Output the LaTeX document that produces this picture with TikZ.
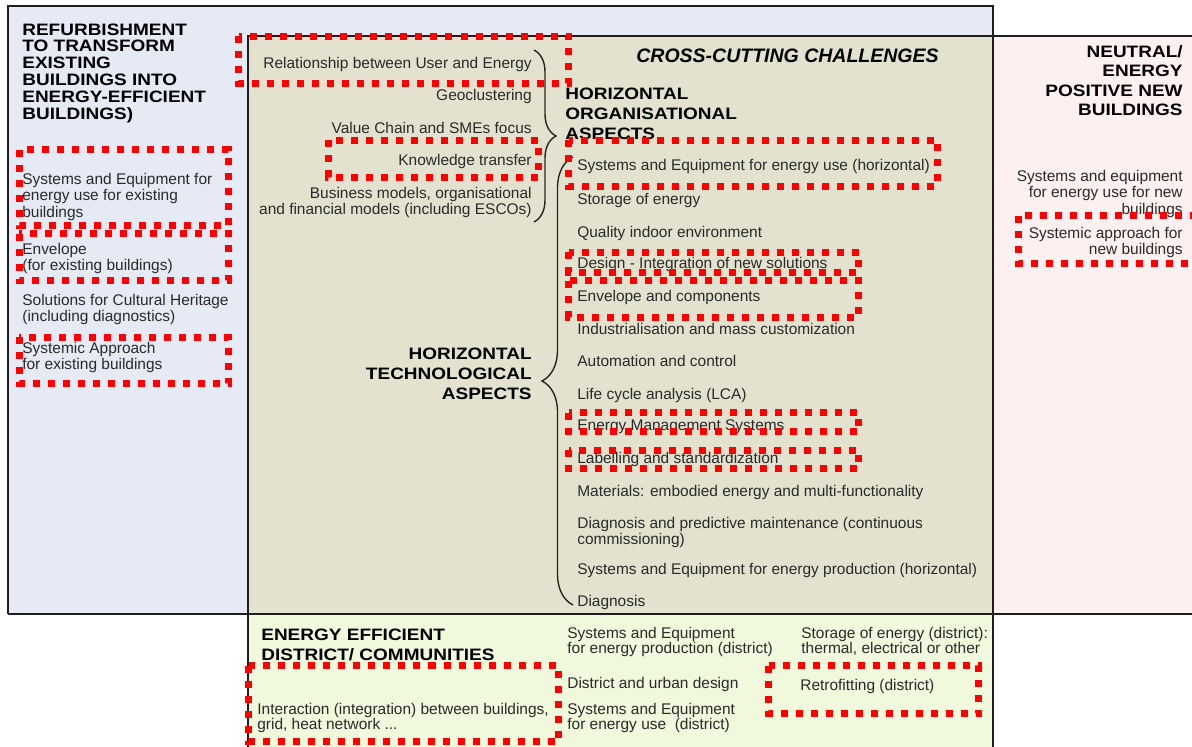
\documentclass[tikz,border=0pt]{standalone}
\usepackage{fontspec}
\setmainfont{Liberation Sans}
\newfontfamily\headfont{Liberation Sans}[FakeStretch=1.15]
\usetikzlibrary{decorations.pathreplacing}

\definecolor{refblue}{HTML}{E6EAF5}
\definecolor{crossbeige}{HTML}{E3E2CE}
\definecolor{newpink}{HTML}{FDF0F0}
\definecolor{distgreen}{HTML}{F1F9DC}
\definecolor{itemgray}{HTML}{2A2A2A}
\definecolor{framegray}{HTML}{1E1E1E}

\newcommand{\itemfont}{\fontsize{8.8}{9.3}\selectfont}
\newcommand{\headfnt}{\headfont\bfseries\fontsize{9.4}{11.4}\selectfont}

\begin{document}
\begin{tikzpicture}[
    item/.style={inner sep=0pt, text=itemgray, font=\itemfont},
    head/.style={inner sep=0pt, text=black, font=\headfnt},
    hl/.style={draw=red, line width=0.14cm, dash pattern=on 0.14cm off 0.16cm},
    frame/.style={draw=framegray, line width=0.045cm},
    curly/.style={draw=black!85, line width=0.028cm, decorate}]

      \useasboundingbox (0,0) rectangle (23.84,-14.92);

      % areas
      \fill[refblue] (0.16,-0.12) rectangle (19.86,-12.28);
      \fill[crossbeige] (4.96,-0.72) rectangle (19.86,-12.28);
      \fill[newpink] (19.86,-0.72) rectangle (24.2,-12.28);
      \fill[distgreen] (4.96,-12.28) rectangle (19.86,-15.2);

      % borders
      \draw[frame] (0.16,-12.28) -- (0.16,-0.12) -- (19.86,-0.12) -- (19.86,-15.2);
      \draw[frame] (4.96,-15.2) -- (4.96,-0.72) -- (24.2,-0.72);
      \draw[frame] (0.16,-12.28) -- (24.2,-12.28);

      % headings
      \node[head, anchor=north west, align=left, font=\headfont\bfseries\fontsize{9.4}{9.56}\selectfont] (refurb) at (0.44,-0.466) {REFURBISHMENT\\TO TRANSFORM\\EXISTING\\BUILDINGS INTO\\ENERGY-EFFICIENT\\BUILDINGS)};
      \node[head, anchor=north west, font=\bfseries\itshape\fontsize{11.1}{13}\selectfont] (cross) at (12.72,-0.97) {CROSS-CUTTING CHALLENGES};
      \node[head, anchor=north west, align=left] (orghead) at (11.30,-1.76) {HORIZONTAL\\ORGANISATIONAL\\ASPECTS};
      \node[head, anchor=north east, align=right] (techhead) at (10.64,-6.96) {HORIZONTAL\\TECHNOLOGICAL\\ASPECTS};
      \node[head, anchor=north east, align=right, font=\headfont\bfseries\fontsize{9.4}{11.1}\selectfont] (neutral) at (23.66,-0.90) {NEUTRAL/\\ENERGY\\POSITIVE NEW\\BUILDINGS};
      \node[head, anchor=north west, align=left] (disthead) at (5.22,-12.58) {ENERGY EFFICIENT\\DISTRICT/ COMMUNITIES};

      % existing buildings
      \node[item, anchor=north west, align=left] (sysexist) at (0.44,-3.46) {Systems and Equipment for\\energy use for existing\\buildings};
      \node[item, anchor=north west, align=left] (envexist) at (0.44,-4.86) {Envelope\\(for existing buildings)};
      \node[item, anchor=north west, align=left] (heritage) at (0.44,-5.88) {Solutions for Cultural Heritage\\(including diagnostics)};
      \node[item, anchor=north west, align=left] (sysapexist) at (0.44,-6.84) {Systemic Approach\\for existing buildings};

      % organisational aspects
      \node[item, anchor=north east] (relation) at (10.64,-1.14) {Relationship between User and Energy};
      \node[item, anchor=north east] (geoclust) at (10.64,-1.78) {Geoclustering};
      \node[item, anchor=north east] (valuechain) at (10.64,-2.44) {Value Chain and SMEs focus};
      \node[item, anchor=north east] (knowhow) at (10.64,-3.08) {Knowledge transfer};
      \node[item, anchor=north east, align=right, font=\fontsize{8.8}{9.1}\selectfont] (business) at (10.64,-3.74) {Business models, organisational\\and financial models (including ESCOs)};

      % technological aspects
      \node[item, anchor=north west] (syseqh) at (11.54,-3.18) {Systems and Equipment for energy use (horizontal)};
      \node[item, anchor=north west] (storage) at (11.54,-3.86) {Storage of energy};
      \node[item, anchor=north west] (quality) at (11.54,-4.52) {Quality indoor environment};
      \node[item, anchor=north west] (design) at (11.54,-5.14) {Design - Integration of new solutions};
      \node[item, anchor=north west] (envcomp) at (11.54,-5.80) {Envelope and components};
      \node[item, anchor=north west] (industrial) at (11.54,-6.46) {Industrialisation and mass customization};
      \node[item, anchor=north west] (automation) at (11.54,-7.10) {Automation and control};
      \node[item, anchor=north west] (lca) at (11.54,-7.76) {Life cycle analysis (LCA)};
      \node[item, anchor=north west] (ems) at (11.54,-8.38) {Energy Management Systems};
      \node[item, anchor=north west] (labelling) at (11.54,-9.04) {Labelling and standardization};
      \node[item, anchor=north west] (materials) at (11.54,-9.70) {Materials: embodied energy and multi-functionality};
      \node[item, anchor=north west, align=left, font=\fontsize{8.8}{7.4}\selectfont] (predictive) at (11.54,-10.34) {Diagnosis and predictive maintenance (continuous\\commissioning)};
      \node[item, anchor=north west] (sysprodh) at (11.54,-11.26) {Systems and Equipment for energy production (horizontal)};
      \node[item, anchor=north west] (diagnosis) at (11.54,-11.90) {Diagnosis};

      % new buildings
      \node[item, anchor=north east, align=right] (syseqnew) at (23.66,-3.40) {Systems and equipment\\for energy use for new\\buildings};
      \node[item, anchor=north east, align=right, font=\fontsize{8.8}{9.1}\selectfont] (sysapnew) at (23.66,-4.54) {Systemic approach for\\new buildings};

      % district
      \node[item, anchor=north west, align=left, font=\fontsize{8.8}{8.6}\selectfont] (distprod) at (11.34,-12.54) {Systems and Equipment\\for energy production (district)};
      \node[item, anchor=north west, align=left, font=\fontsize{8.8}{8.6}\selectfont] (diststore) at (16.02,-12.54) {Storage of energy (district):\\thermal, electrical or other};
      \node[item, anchor=north west] (urban) at (11.34,-13.54) {District and urban design};
      \node[item, anchor=north west, align=left, font=\fontsize{8.8}{8.6}\selectfont] (distuse) at (11.34,-14.06) {Systems and Equipment\\for energy use~ (district)};
      \node[item, anchor=north west, align=left, font=\fontsize{8.8}{8.6}\selectfont] (interaction) at (5.14,-14.06) {Interaction (integration) between buildings,\\grid, heat network ...};
      \node[item, anchor=north west] (retrofit) at (16.00,-13.58) {Retrofitting (district)};

      % braces
      \coordinate (orgtop) at (10.68,-1.00);
      \coordinate (orgbot) at (10.68,-4.44);
      \draw[curly, decoration={brace, amplitude=0.44cm}] (orgtop) -- (orgbot);
      \coordinate (techbot) at (11.46,-12.10);
      \coordinate (techtop) at (11.46,-3.14);
      \draw[curly, decoration={brace, amplitude=0.62cm}] (techbot) -- (techtop);

      % highlights
      \draw[hl] (4.77,-0.72) rectangle (11.37,-1.66);
      \draw[hl] (6.56,-2.80) rectangle (10.77,-3.54);
      \draw[hl] (0.38,-2.99) rectangle (4.57,-4.50);
      \draw[hl] (0.38,-4.67) rectangle (4.57,-5.61);
      \draw[hl] (0.38,-6.74) rectangle (4.57,-7.67);
      \draw[hl] (11.37,-2.80) rectangle (18.74,-3.73);
      \draw[hl] (11.37,-5.04) rectangle (17.17,-5.44);
      \draw[hl] (11.37,-5.61) rectangle (17.17,-6.34);
      \draw[hl] (11.37,-8.25) rectangle (17.17,-8.63);
      \draw[hl] (11.37,-9.00) rectangle (17.17,-9.37);
      \draw[hl] (20.37,-4.31) rectangle (24.2,-5.26);
      \draw[hl] (4.97,-13.31) rectangle (11.17,-14.83);
      \draw[hl] (15.37,-13.31) rectangle (19.57,-14.27);
    \end{tikzpicture}
\end{document}
